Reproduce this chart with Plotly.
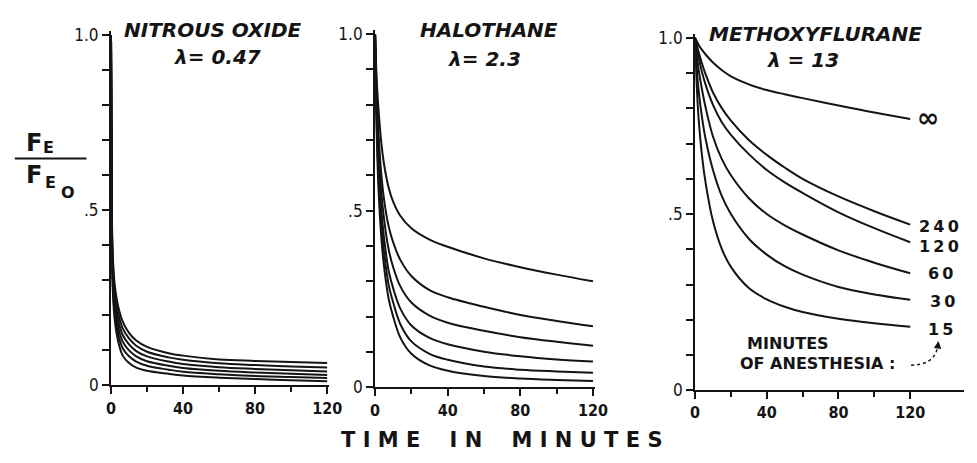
import plotly.graph_objects as go

# ---------------- data ----------------
n2o_t = [0, 0.5, 1, 2, 4, 6.5, 10, 14, 20, 32, 40, 60, 80, 100, 120]
n2o_inf = [1.0, 0.48, 0.37, 0.29, 0.225, 0.182, 0.150, 0.128, 0.110, 0.092, 0.085, 0.074, 0.070, 0.067, 0.064]
n2o_240 = [1.0, 0.46, 0.35, 0.27, 0.205, 0.163, 0.134, 0.113, 0.096, 0.080, 0.073, 0.063, 0.058, 0.054, 0.051]
n2o_120 = [1.0, 0.44, 0.33, 0.25, 0.185, 0.144, 0.117, 0.098, 0.083, 0.068, 0.061, 0.052, 0.047, 0.043, 0.040]
n2o_60 = [1.0, 0.42, 0.31, 0.23, 0.165, 0.125, 0.100, 0.083, 0.069, 0.056, 0.050, 0.042, 0.037, 0.033, 0.030]
n2o_30 = [1.0, 0.40, 0.29, 0.21, 0.145, 0.106, 0.083, 0.068, 0.056, 0.045, 0.039, 0.032, 0.027, 0.024, 0.021]
n2o_15 = [1.0, 0.38, 0.27, 0.19, 0.125, 0.085, 0.064, 0.051, 0.042, 0.033, 0.028, 0.022, 0.018, 0.015, 0.012]

hal_t = [0, 1, 2, 3.5, 5, 7.5, 10, 14, 20, 30, 40, 60, 80, 100, 120]
hal_inf = [1.0, 0.86, 0.78, 0.69, 0.63, 0.565, 0.525, 0.485, 0.45, 0.418, 0.398, 0.365, 0.34, 0.319, 0.30]
hal_240 = [1.0, 0.82, 0.71, 0.60, 0.53, 0.455, 0.41, 0.36, 0.315, 0.275, 0.255, 0.228, 0.205, 0.188, 0.173]
hal_120 = [1.0, 0.79, 0.67, 0.55, 0.475, 0.39, 0.34, 0.285, 0.24, 0.203, 0.183, 0.16, 0.142, 0.129, 0.118]
hal_60 = [1.0, 0.76, 0.63, 0.50, 0.42, 0.33, 0.28, 0.222, 0.175, 0.14, 0.122, 0.101, 0.088, 0.079, 0.073]
hal_30 = [1.0, 0.73, 0.59, 0.46, 0.38, 0.29, 0.24, 0.178, 0.13, 0.095, 0.078, 0.059, 0.05, 0.045, 0.041]
hal_15 = [1.0, 0.70, 0.55, 0.42, 0.34, 0.25, 0.20, 0.14, 0.095, 0.062, 0.047, 0.032, 0.025, 0.021, 0.018]

mof_t = [0, 1, 2, 4, 6, 10, 15, 20, 30, 40, 50, 60, 80, 100, 120]
mof_inf = [1.0, 0.99, 0.98, 0.965, 0.952, 0.93, 0.908, 0.891, 0.868, 0.852, 0.84, 0.829, 0.808, 0.788, 0.77]
mof_240 = [1.0, 0.98, 0.96, 0.925, 0.895, 0.845, 0.80, 0.765, 0.71, 0.668, 0.632, 0.60, 0.55, 0.508, 0.47]
mof_120 = [1.0, 0.97, 0.945, 0.90, 0.865, 0.81, 0.76, 0.725, 0.67, 0.625, 0.59, 0.56, 0.505, 0.46, 0.42]
mof_60 = [1.0, 0.95, 0.91, 0.85, 0.80, 0.72, 0.655, 0.61, 0.545, 0.50, 0.468, 0.442, 0.397, 0.362, 0.332]
mof_30 = [1.0, 0.91, 0.85, 0.77, 0.71, 0.625, 0.55, 0.50, 0.43, 0.385, 0.352, 0.328, 0.293, 0.272, 0.257]
mof_15 = [1.0, 0.86, 0.77, 0.66, 0.585, 0.48, 0.40, 0.35, 0.29, 0.258, 0.237, 0.222, 0.203, 0.19, 0.18]

end_labels = ["\u221e", "240", "120", "60", "30", "15"]
panel_titles = ["NITROUS OXIDE", "HALOTHANE", "METHOXYFLURANE"]
panel_lambdas = ["\u03bb= 0.47", "\u03bb= 2.3", "\u03bb = 13"]
x_ticks = [0, 40, 80, 120]
x_minor = [20, 60, 100]
y_ticks = [0, 0.5, 1.0]
y_ticktext = ["0", ".5", "1.0"]

# ---------------- layout helpers ----------------
W, H = 977, 463
INK = "#141414"
FONT = "Liberation Sans Narrow, DejaVu Sans Condensed, Liberation Sans, Arial, sans-serif"
WIDE = "DejaVu Sans, Verdana, sans-serif"


def px(x):
    return x / W


def py(y):
    return 1 - y / H


def xdom(p0, per_min, rmax):
    return [px(p0), min(1.0, px(p0 + per_min * rmax))]


def ydom(p0, p1, rmax):
    s = p0 - p1
    return [py(p0), py(p0 - rmax * s)]


YMAX = 1.012
panels = [
    dict(t=n2o_t, series=[n2o_inf, n2o_240, n2o_120, n2o_60, n2o_30, n2o_15],
         xd=xdom(108, 1.835, 121), yd=ydom(393, 30, YMAX), xr=121),
    dict(t=hal_t, series=[hal_inf, hal_240, hal_120, hal_60, hal_30, hal_15],
         xd=xdom(377, 1.85, 121), yd=ydom(395, 29, YMAX), xr=121),
    dict(t=mof_t, series=[mof_inf, mof_240, mof_120, mof_60, mof_30, mof_15],
         xd=xdom(703, 1.839, 150), yd=ydom(398, 33, YMAX), xr=150),
]

fig = go.Figure()
layout = dict(width=W, height=H, margin=dict(l=0, r=0, t=0, b=0),
              paper_bgcolor="white", plot_bgcolor="white", showlegend=False,
              font=dict(family=FONT, color=INK, size=14))

for i, p in enumerate(panels):
    k = "" if i == 0 else str(i + 1)
    for s in p["series"]:
        fig.add_trace(go.Scatter(x=p["t"], y=s, mode="lines",
                                 line=dict(color=INK, width=2, shape="spline", smoothing=1.0),
                                 xaxis="x" + k, yaxis="y" + k, hoverinfo="skip"))
    layout["xaxis" + k] = dict(domain=p["xd"], range=[0, p["xr"]], anchor="y" + k,
                               showgrid=False, zeroline=False, showline=True,
                               linecolor=INK, linewidth=2,
                               tickmode="array", tickvals=x_ticks, ticks="outside",
                               ticklen=7, tickwidth=2, tickcolor=INK,
                               tickfont=dict(size=16, family=FONT, color=INK, weight="bold"),
                               minor=dict(tickmode="array", tickvals=x_minor, ticks="outside",
                                          ticklen=5, tickwidth=2, tickcolor=INK))
    layout["yaxis" + k] = dict(domain=p["yd"], range=[0, YMAX], anchor="x" + k,
                               showgrid=False, zeroline=False, showline=True,
                               linecolor=INK, linewidth=2,
                               tickmode="array", tickvals=y_ticks, ticktext=y_ticktext,
                               ticks="outside", ticklen=7, tickwidth=2, tickcolor=INK,
                               tickfont=dict(size=17, family=FONT, color=INK),
                               minor=dict(dtick=0.1, tick0=0, ticks="outside",
                                          ticklen=7, tickwidth=2, tickcolor=INK))

fig.update_layout(**layout)

ann = []


def add_text(x, y, text, size, **kw):
    d = dict(x=px(x), y=py(y), xref="paper", yref="paper", text=text, showarrow=False,
             xanchor="center", yanchor="middle",
             font=dict(size=size, family=kw.pop("family", WIDE), color=INK))
    d.update(kw)
    ann.append(d)


title_pos = [((212, 25), (216, 53)), ((493, 25), (488, 55)), ((826, 29), (813, 56))]
for (tp, lp), title, lam in zip(title_pos, panel_titles, panel_lambdas):
    add_text(tp[0], tp[1], "<b><i>" + title + "</i></b>", 20)
    add_text(lp[0], lp[1], "<b><i>" + lam + "</i></b>", 20)

# curve labels on the right panel
TS = "\u2009"
label_pos = [(941, 116), (952, 228), (952, 249), (953, 277), (955, 306), (953, 335)]
for (lx, ly), lab in zip(label_pos, end_labels):
    if lab == "\u221e":
        add_text(lx, ly, "<b>" + lab + "</b>", 27)
    else:
        add_text(lx, ly, "<b>" + TS.join(lab) + "</b>", 16)

add_text(798, 350, "<b>MINUTES</b>", 16)
add_text(828, 370, "<b>OF ANESTHESIA :</b>", 16)

# y-axis label  F_E / F_E0
add_text(30, 142, "<b>F</b>", 24)
add_text(44, 147, "<b>E</b>", 16)
add_text(30, 175, "<b>F</b>", 24)
add_text(46, 183, "<b>E</b>", 16)
add_text(64, 193, "<b>O</b>", 16)

# x-axis title
add_text(506, 450, "<b>T I M E &nbsp;&nbsp; I N &nbsp;&nbsp; M I N U T E S</b>", 21)

# arrow head for the dashed pointer
ann.append(dict(x=px(951), y=py(347), xref="paper", yref="paper", text="",
                showarrow=True, ax=-1, ay=8, arrowhead=2, arrowsize=1,
                arrowwidth=1.5, arrowcolor=INK))

fig.update_layout(annotations=ann)

shapes = [
    dict(type="line", xref="paper", yref="paper", x0=px(10), x1=px(83), y0=py(158), y1=py(158),
         line=dict(color=INK, width=2)),
    dict(type="path", xref="paper", yref="paper",
         path=f"M {px(923)},{py(372)} Q {px(946)},{py(372)} {px(950)},{py(354)}",
         line=dict(color=INK, width=1.5, dash="dot")),
]
fig.update_layout(shapes=shapes)

fig.write_html("out.html",
               config={"displayModeBar": False, "staticPlot": True},
               post_script="document.body.style.margin='0';document.body.style.overflow='hidden';")
